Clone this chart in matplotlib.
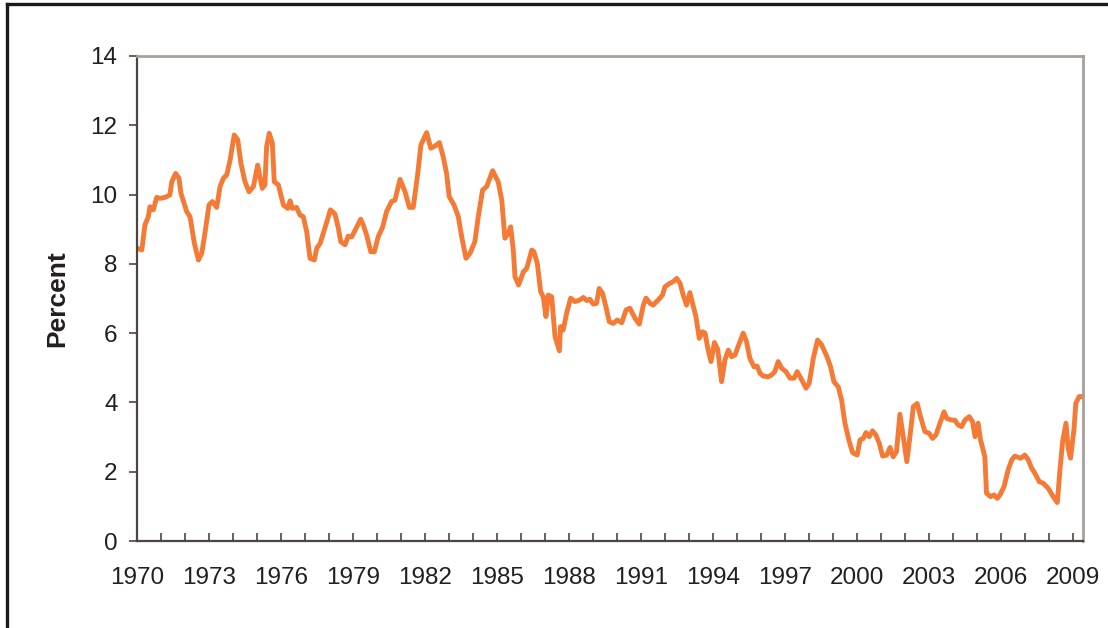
import matplotlib
matplotlib.use("Agg")
import matplotlib.pyplot as plt
from matplotlib.lines import Line2D
from matplotlib.ticker import MultipleLocator

# data (year fraction, percent)
years = [
    1970.00, 1970.20, 1970.33, 1970.47, 1970.54, 1970.68, 1970.82, 1970.96, 1971.17, 1971.37,
    1971.45, 1971.61, 1971.75, 1971.83, 1972.07, 1972.21, 1972.39, 1972.56, 1972.70, 1972.83,
    1973.00, 1973.14, 1973.32, 1973.46, 1973.60, 1973.74, 1973.88, 1974.05, 1974.20, 1974.33,
    1974.50, 1974.67, 1974.85, 1975.03, 1975.12, 1975.22, 1975.33, 1975.40, 1975.51, 1975.64,
    1975.72, 1975.89, 1976.10, 1976.28, 1976.38, 1976.47, 1976.65, 1976.79, 1976.93, 1977.07,
    1977.21, 1977.39, 1977.49, 1977.63, 1977.83, 1978.06, 1978.25, 1978.39, 1978.49, 1978.67,
    1978.80, 1978.95, 1979.13, 1979.32, 1979.43, 1979.57, 1979.74, 1979.89, 1980.05, 1980.24,
    1980.40, 1980.61, 1980.75, 1980.96, 1981.17, 1981.35, 1981.51, 1981.70, 1981.83, 1982.07,
    1982.24, 1982.42, 1982.60, 1982.76, 1982.90, 1983.01, 1983.21, 1983.39, 1983.53, 1983.71,
    1983.88, 1984.08, 1984.22, 1984.40, 1984.57, 1984.82, 1985.05, 1985.20, 1985.33, 1985.47,
    1985.57, 1985.68, 1985.75, 1985.90, 1986.10, 1986.24, 1986.45, 1986.54, 1986.68, 1986.82,
    1986.93, 1987.04, 1987.14, 1987.28, 1987.42, 1987.60, 1987.65, 1987.76, 1987.90, 1988.07,
    1988.25, 1988.46, 1988.60, 1988.74, 1988.87, 1989.01, 1989.15, 1989.26, 1989.40, 1989.54,
    1989.68, 1989.85, 1990.01, 1990.20, 1990.38, 1990.54, 1990.75, 1990.93, 1991.10, 1991.21,
    1991.38, 1991.51, 1991.72, 1991.90, 1992.00, 1992.21, 1992.35, 1992.49, 1992.63, 1992.76,
    1992.90, 1993.04, 1993.15, 1993.29, 1993.43, 1993.57, 1993.67, 1993.80, 1993.92, 1994.06,
    1994.20, 1994.36, 1994.50, 1994.64, 1994.78, 1994.92, 1995.10, 1995.26, 1995.40, 1995.54,
    1995.71, 1995.84, 1995.96, 1996.10, 1996.30, 1996.44, 1996.58, 1996.72, 1996.86, 1997.04,
    1997.21, 1997.38, 1997.51, 1997.70, 1997.88, 1998.01, 1998.18, 1998.36, 1998.53, 1998.74,
    1998.90, 1999.04, 1999.22, 1999.36, 1999.50, 1999.68, 1999.82, 2000.01, 2000.13, 2000.26,
    2000.38, 2000.51, 2000.65, 2000.79, 2000.93, 2001.07, 2001.24, 2001.38, 2001.51, 2001.65,
    2001.79, 2001.93, 2002.08, 2002.24, 2002.35, 2002.51, 2002.65, 2002.83, 2003.01, 2003.15,
    2003.29, 2003.46, 2003.63, 2003.74, 2003.95, 2004.08, 2004.22, 2004.36, 2004.50, 2004.68,
    2004.82, 2004.92, 2005.05, 2005.15, 2005.33, 2005.40, 2005.57, 2005.71, 2005.85, 2005.96,
    2006.13, 2006.30, 2006.45, 2006.58, 2006.82, 2007.00, 2007.14, 2007.28, 2007.42, 2007.60,
    2007.76, 2007.97, 2008.18, 2008.35, 2008.46, 2008.57, 2008.71, 2008.80, 2008.90, 2009.04,
    2009.12, 2009.26, 2009.40,
]
percent = [
    8.45, 8.40, 9.12, 9.36, 9.65, 9.56, 9.92, 9.89, 9.92, 9.99,
    10.37, 10.61, 10.47, 10.04, 9.51, 9.36, 8.59, 8.11, 8.31, 8.88,
    9.70, 9.80, 9.63, 10.23, 10.47, 10.57, 11.00, 11.72, 11.58, 10.90,
    10.37, 10.08, 10.23, 10.85, 10.52, 10.18, 10.28, 11.38, 11.77, 11.48,
    10.37, 10.28, 9.70, 9.60, 9.82, 9.60, 9.63, 9.41, 9.36, 8.93,
    8.16, 8.11, 8.45, 8.59, 9.03, 9.56, 9.44, 9.03, 8.64, 8.55,
    8.80, 8.78, 9.03, 9.29, 9.12, 8.83, 8.35, 8.35, 8.78, 9.07,
    9.51, 9.80, 9.84, 10.44, 10.08, 9.63, 9.63, 10.61, 11.43, 11.79,
    11.34, 11.40, 11.50, 11.09, 10.61, 9.94, 9.70, 9.36, 8.78, 8.16,
    8.31, 8.64, 9.36, 10.13, 10.23, 10.69, 10.37, 9.84, 8.74, 8.88,
    9.07, 8.40, 7.63, 7.39, 7.77, 7.87, 8.40, 8.35, 8.02, 7.20,
    7.05, 6.48, 7.10, 7.05, 5.90, 5.49, 6.19, 6.09, 6.57, 7.01,
    6.91, 6.96, 7.03, 6.94, 6.98, 6.84, 6.86, 7.29, 7.15, 6.76,
    6.33, 6.28, 6.38, 6.30, 6.67, 6.72, 6.43, 6.26, 6.81, 7.01,
    6.86, 6.81, 6.96, 7.10, 7.34, 7.44, 7.49, 7.58, 7.44, 7.10,
    6.81, 7.17, 6.86, 6.48, 5.85, 6.04, 6.00, 5.51, 5.18, 5.73,
    5.53, 4.60, 5.23, 5.51, 5.32, 5.37, 5.71, 6.00, 5.75, 5.27,
    5.03, 5.05, 4.84, 4.76, 4.74, 4.79, 4.89, 5.18, 4.99, 4.89,
    4.70, 4.70, 4.89, 4.65, 4.41, 4.55, 5.27, 5.80, 5.66, 5.34,
    5.03, 4.60, 4.45, 4.07, 3.40, 2.87, 2.55, 2.48, 2.92, 2.96,
    3.13, 3.01, 3.18, 3.06, 2.82, 2.45, 2.48, 2.70, 2.43, 2.58,
    3.66, 3.01, 2.29, 3.20, 3.88, 3.97, 3.59, 3.16, 3.11, 2.96,
    3.06, 3.40, 3.73, 3.54, 3.49, 3.49, 3.35, 3.30, 3.49, 3.59,
    3.44, 3.01, 3.40, 2.92, 2.43, 1.38, 1.28, 1.33, 1.23, 1.33,
    1.57, 2.05, 2.34, 2.45, 2.39, 2.48, 2.34, 2.10, 1.95, 1.71,
    1.67, 1.52, 1.28, 1.11, 2.05, 2.87, 3.40, 2.68, 2.39, 3.20,
    3.97, 4.17, 4.17,
]
label_years = list(range(1970, 2010, 3))
y_ticks = list(range(0, 15, 2))

plt.rcParams['font.family'] = ['Liberation Sans', 'DejaVu Sans']

fig = plt.figure(figsize=(11.08, 6.28), dpi=100)
ax = fig.add_axes([137 / 1108, 1 - 541 / 628, 946 / 1108, 485 / 628])

ax.plot(years, percent, color='#f47a36', linewidth=3.5, solid_joinstyle='round')

ax.set_xlim(1970, 2009.42)
ax.set_ylim(0, 14)
ax.set_xticks(label_years)
ax.set_xticklabels([str(y) for y in label_years])
ax.xaxis.set_minor_locator(MultipleLocator(1))
ax.set_yticks(y_ticks)

text_color = '#231f20'
ax.tick_params(axis='x', which='both', direction='in', length=5.5, width=1.1,
               color='#3c3432', labelsize=17.5, labelcolor=text_color, pad=19)
ax.tick_params(axis='y', direction='out', length=6, width=1.1,
               color='#3c3432', labelsize=17.5, labelcolor=text_color, pad=8)

ax.set_ylabel('Percent', fontsize=19, fontweight='bold', color=text_color, labelpad=15)

for side in ['left', 'bottom']:
    ax.spines[side].set_color('#4d4542')
    ax.spines[side].set_linewidth(1.6)
for side in ['top', 'right']:
    ax.spines[side].set_color('#a89f9b')
    ax.spines[side].set_linewidth(2.0)

# outer frame of the picture (only left and top edges are visible)
fig.add_artist(Line2D([7 / 1108, 7 / 1108], [0, 1 - 4 / 628], transform=fig.transFigure,
                      color='#1a1a1a', linewidth=2.4))
fig.add_artist(Line2D([7 / 1108, 1], [1 - 4 / 628, 1 - 4 / 628], transform=fig.transFigure,
                      color='#1a1a1a', linewidth=2.4))

fig.savefig('out.png', dpi=100)
